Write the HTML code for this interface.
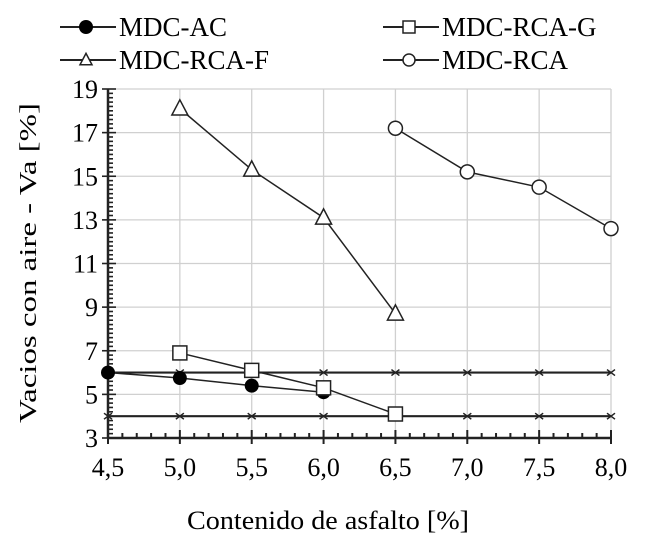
<!DOCTYPE html>
<html><head><meta charset="utf-8"><style>
body{margin:0;background:#fff;}
svg{display:block;font-family:"Liberation Serif",serif;}
</style></head><body>
<svg id="chart" width="650" height="537" viewBox="0 0 650 537" xmlns="http://www.w3.org/2000/svg">
<g id="grid"></g>
<g id="axes"></g>
<g id="series"></g>
<g id="legend"></g>
<text transform="translate(36,263) rotate(-90)" text-anchor="middle" font-size="24" textLength="320" lengthAdjust="spacingAndGlyphs">Vacios con aire - Va [%]</text>
<text x="328" y="529" text-anchor="middle" font-size="26" textLength="282" lengthAdjust="spacingAndGlyphs">Contenido de asfalto [%]</text>
</svg>
<script>
const xTicks=[4.5,5.0,5.5,6.0,6.5,7.0,7.5,8.0];
const xTickLabels=["4,5","5,0","5,5","6,0","6,5","7,0","7,5","8,0"];
const yTicks=[3,5,7,9,11,13,15,17,19];
const acX=[4.5,5.0,5.5,6.0];
const acY=[6.0,5.75,5.4,5.1];
const gX=[5.0,5.5,6.0,6.5];
const gY=[6.9,6.1,5.3,4.1];
const fX=[5.0,5.5,6.0,6.5];
const fY=[18.1,15.3,13.1,8.7];
const rX=[6.5,7.0,7.5,8.0];
const rY=[17.2,15.2,14.5,12.6];
const limX=[4.5,5.0,5.5,6.0,6.5,7.0,7.5,8.0];
const limUpper=[6,6,6,6,6,6,6,6];
const limLower=[4,4,4,4,4,4,4,4];

const X0=108,X1=611,Y0=438,Y1=89;
const sx=v=>X0+(v-4.5)/(8.0-4.5)*(X1-X0);
const sy=v=>Y0-(v-3)/(19-3)*(Y0-Y1);
const NS="http://www.w3.org/2000/svg";
function mk(parent,tag,attrs){const e=document.createElementNS(NS,tag);for(const k in attrs)e.setAttribute(k,attrs[k]);parent.appendChild(e);return e;}
const grid=document.getElementById('grid'),axes=document.getElementById('axes'),series=document.getElementById('series'),legend=document.getElementById('legend');

xTicks.forEach((t,i)=>{
 const g=mk(grid,'line',{x1:sx(t),x2:sx(t),y1:Y1,y2:Y0,stroke:'#d0d0d0','stroke-width':1.3});
 
 
 const tl=mk(axes,'text',{x:sx(t),y:Y0+38,'text-anchor':'middle','font-size':26});
 tl.textContent=xTickLabels[i];
 
 
});
yTicks.forEach(t=>{
 const g=mk(grid,'line',{x1:X0,x2:X1,y1:sy(t),y2:sy(t),stroke:'#d0d0d0','stroke-width':1.3});
 
 
 const tl=mk(axes,'text',{x:X0-10,y:sy(t)+9,'text-anchor':'end','font-size':26});
 tl.textContent=t;
 
 
});
for(let k=0;k<=35;k++){const v=4.5+k*0.1;const major=k%5===0;
 const l=mk(axes,'line',{x1:sx(v),x2:sx(v),y1:Y0-(major?8:5),y2:Y0+(major?6:0),stroke:'#222','stroke-width':2});
 
 }
for(let k=0;k<=80;k++){const v=3+k*0.2;const major=k%10===0;
 const l=mk(axes,'line',{x1:X0-(major?6:0),x2:X0+(major?8:5),y1:sy(v),y2:sy(v),stroke:'#222','stroke-width':1.6});
 
 }
let a=mk(axes,'line',{x1:X0,x2:X1,y1:Y0,y2:Y0,stroke:'#222','stroke-width':2.5});

a=mk(axes,'line',{x1:X0,x2:X0,y1:Y1,y2:Y0,stroke:'#222','stroke-width':2.5});


function marker(p,type,x,y,s){
 let e;
 if(type==='dot')e=mk(p,'circle',{cx:x,cy:y,r:s,fill:'#000'});
 else if(type==='circle')e=mk(p,'circle',{cx:x,cy:y,r:s,fill:'#fff',stroke:'#222','stroke-width':1.5});
 else if(type==='square')e=mk(p,'rect',{x:x-s,y:y-s,width:2*s,height:2*s,fill:'#fff',stroke:'#222','stroke-width':1.5});
 else if(type==='tri')e=mk(p,'polygon',{points:`${x},${y-s*1.1} ${x-s},${y+s*0.8} ${x+s},${y+s*0.8}`,fill:'#fff',stroke:'#222','stroke-width':1.5});
 else if(type==='x'){e=mk(p,'path',{d:`M${x-4},${y-3}L${x+4},${y+3}M${x-4},${y+3}L${x+4},${y-3}`,stroke:'#222','stroke-width':1.5});}
 return e;
}
function drawSeries(name,xs,ys,type,size,w){
 const pts=xs.map((x,i)=>sx(x)+','+sy(ys[i])).join(' ');
 const l=mk(series,'polyline',{points:pts,fill:'none',stroke:'#222','stroke-width':w});
 
 
 xs.forEach((x,i)=>{const m=marker(series,type,sx(x),sy(ys[i]),size);
  
  });
}
drawSeries('limit-upper',limX,limUpper,'x',4,2.2);
drawSeries('limit-lower',limX,limLower,'x',4,2.2);
drawSeries('mdc-ac',acX,acY,'dot',7,1.5);
drawSeries('mdc-rca-g',gX,gY,'square',7,1.5);
drawSeries('mdc-rca-f',fX,fY,'tri',8,1.5);
drawSeries('mdc-rca',rX,rY,'circle',7,1.5);

const legNames=["MDC-AC","MDC-RCA-G","MDC-RCA-F","MDC-RCA"];
const legTypes=['dot','square','tri','circle'];
const legPos=[[60,27],[383,27],[60,60],[383,60]];
legNames.forEach((n,i)=>{
 const [x,y]=legPos[i];
 const g=mk(legend,'g',{});
 
 
 mk(g,'line',{x1:x,x2:x+56,y1:y,y2:y,stroke:'#222','stroke-width':2});
 marker(g,legTypes[i],x+26,y,legTypes[i]==='dot'?7:6);
 const t=mk(g,'text',{x:x+59,y:y+9,'font-size':27});
 t.textContent=n;
});
</script>
</body></html>
